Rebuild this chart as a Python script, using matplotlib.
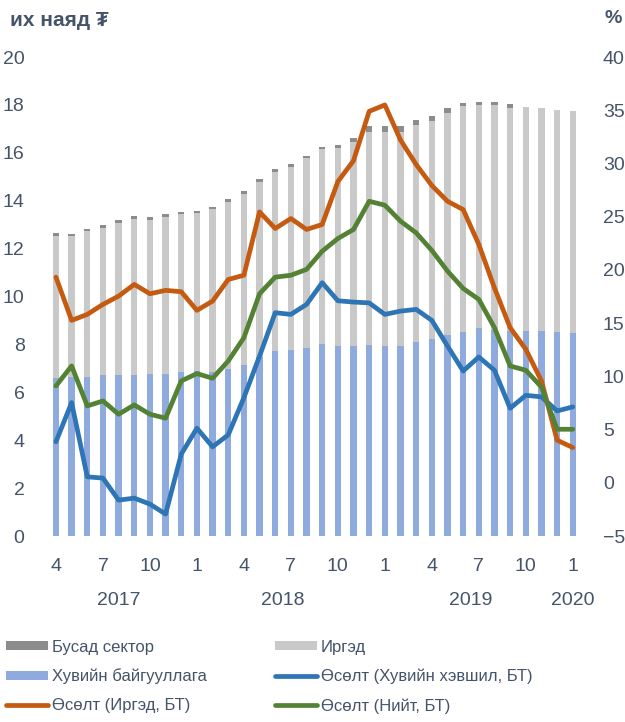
import matplotlib.pyplot as plt
import numpy as np

plt.rcParams['font.family'] = ['Liberation Sans', 'DejaVu Sans']

# сар бүрийн тоо: 2017-4 ... 2020-1
months = [4, 5, 6, 7, 8, 9, 10, 11, 12,
          1, 2, 3, 4, 5, 6, 7, 8, 9, 10, 11, 12,
          1, 2, 3, 4, 5, 6, 7, 8, 9, 10, 11, 12,
          1]
years = ['2017', '2018', '2019', '2020']

# зээлийн үлдэгдэл, их наяд төгрөг
total = [12.64, 12.61, 12.83, 12.97, 13.19, 13.35, 13.31, 13.43, 13.55,
         13.58, 13.75, 14.06, 14.39, 14.89, 15.31, 15.52, 15.87, 16.26, 16.34, 16.62, 17.12,
         17.10, 17.12, 17.37, 17.55, 17.86, 18.10, 18.14, 18.14, 18.03, 17.90, 17.87, 17.80,
         17.76]
other = [0.10, 0.10, 0.10, 0.10, 0.10, 0.10, 0.10, 0.10, 0.10,
         0.10, 0.10, 0.10, 0.10, 0.10, 0.10, 0.10, 0.10, 0.12, 0.12, 0.15, 0.25,
         0.25, 0.25, 0.20, 0.20, 0.20, 0.15, 0.15, 0.15, 0.15, 0.0, 0.0, 0.0,
         0.0]
business = [6.61, 6.62, 6.65, 6.72, 6.72, 6.72, 6.76, 6.76, 6.85,
            6.87, 6.85, 6.97, 7.14, 7.46, 7.72, 7.77, 7.85, 8.00, 7.93, 7.93, 7.97,
            7.93, 7.95, 8.10, 8.22, 8.39, 8.53, 8.70, 8.62, 8.56, 8.56, 8.56, 8.53,
            8.49]

# өсөлт, %
g_business = [3.85, 7.53, 0.56, 0.44, -1.63, -1.44, -2.0, -2.94, 2.69,
              5.13, 3.38, 4.5, 8.0, 11.9, 15.98, 15.82, 16.76, 18.8, 17.1, 16.98, 16.9,
              15.82, 16.13, 16.29, 15.26, 12.85, 10.5, 11.82, 10.57, 7.0, 8.22, 8.07, 6.75,
              7.13]
g_household = [19.32, 15.26, 15.82, 16.76, 17.54, 18.64, 17.76, 18.08, 17.95,
               16.2, 17.07, 19.1, 19.5, 25.45, 23.89, 24.83, 23.8, 24.27, 28.3, 30.27, 34.9,
               35.5, 32.2, 29.9, 27.93, 26.45, 25.67, 22.39, 18.3, 14.57, 12.54, 9.57, 4.0,
               3.31]
g_total = [9.1, 10.98, 7.22, 7.69, 6.44, 7.32, 6.44, 6.07, 9.57,
           10.26, 9.82, 11.44, 13.63, 17.76, 19.32, 19.5, 20.05, 21.76, 22.95, 23.8, 26.45,
           26.08, 24.58, 23.48, 21.83, 19.89, 18.26, 17.23, 14.57, 10.98, 10.57, 9.0, 5.03,
           5.03]

household = [t - o - b for t, o, b in zip(total, other, business)]

txt = '#44546A'
x = np.arange(len(months))

fig = plt.figure(figsize=(6.25, 7.22), dpi=100)
ax = fig.add_axes([0.077, 0.2576, 0.852, 0.6634])
ax2 = ax.twinx()

w = 0.4
b1 = ax.bar(x, business, w, color='#8FAADC', label='Хувийн байгууллага')
b2 = ax.bar(x, household, w, bottom=business, color='#C9C9C9', label='Иргэд')
b3 = ax.bar(x, other, w, bottom=np.array(business) + np.array(household),
            color='#8C8C8C', label='Бусад сектор')

lw = 3.4
l1, = ax2.plot(x, g_business, color='#2E75B6', lw=lw, solid_capstyle='round',
               label='Өсөлт (Хувийн хэвшил, БТ)')
l2, = ax2.plot(x, g_household, color='#C55A11', lw=lw, solid_capstyle='round',
               label='Өсөлт (Иргэд, БТ)')
l3, = ax2.plot(x, g_total, color='#548235', lw=lw, solid_capstyle='round',
               label='Өсөлт (Нийт, БТ)')

ax.set_xlim(-0.5, len(months) - 0.5)
ax.set_ylim(0, 20)
ax2.set_ylim(-5, 40)
ax.set_yticks(np.arange(0, 21, 2))
ax2.set_yticks(np.arange(-5, 41, 5))
ax.set_xticks(x[::3])
ax.set_xticklabels([str(m) for m in months[::3]])

for a in (ax, ax2):
    for s in a.spines.values():
        s.set_visible(False)
    a.tick_params(length=0, labelsize=14, colors=txt)
ax.tick_params(axis='y', pad=17)
ax2.tick_params(axis='y', pad=16)
ax.tick_params(axis='x', pad=16)

# жилүүд
year_pos = [4, 14.5, 26.5, 33]
for p, yname in zip(year_pos, years):
    ax.text(p, -2.7, yname, ha='center', va='center', fontsize=14, color=txt)

fig.text(0.016, 0.971, 'их наяд ₮', fontsize=15, fontweight='bold', color=txt,
         ha='left', va='center')
fig.text(0.995, 0.975, '%', fontsize=14, fontweight='bold', color=txt,
         ha='right', va='center')

handles = [b3, b1, l2, b2, l1, l3]
leg = fig.legend(handles, [h.get_label() for h in handles], ncol=2,
                 loc='upper left', bbox_to_anchor=(-0.014, 0.135),
                 frameon=False, handlelength=2.5, handleheight=0.45,
                 handletextpad=0.25, columnspacing=4.1, labelspacing=0.84,
                 fontsize=12)
for t in leg.get_texts():
    t.set_color(txt)

fig.savefig('out.png', dpi=100)
